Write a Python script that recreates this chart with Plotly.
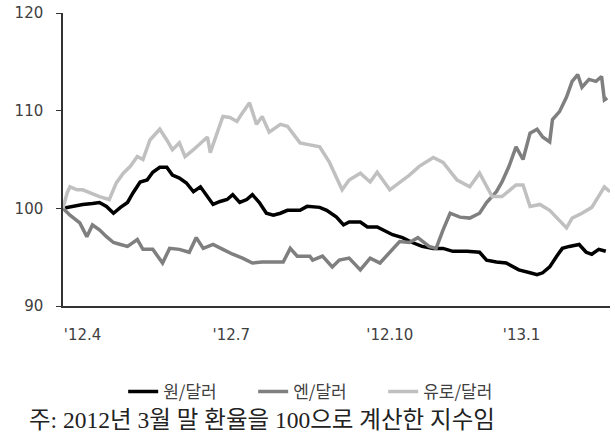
import plotly.graph_objects as go

# time index of observations (base = end of March 2012)
won_t = [0,7,14,21,26,31,36,41,46,50,55,60,64,69,74,78,83,88,93,98,103,107,112,117,121,126,131,135,140,145,150,155,160,164,169,174,183,188,195,200,204,212,217,224,228,235,242,249,256,264,271,278,288,297,302,309,316,321,325,333,338,342,347,352,356,361,368,373,377,382,387]
won_v = [100.0,100.2,100.4,100.5,100.6,100.2,99.5,100.1,100.6,101.6,102.7,102.9,103.7,104.2,104.2,103.4,103.1,102.6,101.7,102.2,101.2,100.4,100.7,100.9,101.4,100.6,100.9,101.4,100.6,99.5,99.3,99.5,99.8,99.8,99.8,100.2,100.1,99.8,99.1,98.3,98.6,98.6,98.1,98.1,97.8,97.3,97.0,96.5,96.1,95.9,95.9,95.6,95.6,95.5,94.7,94.5,94.4,94.0,93.7,93.4,93.2,93.4,94.0,95.1,95.9,96.1,96.3,95.5,95.3,95.8,95.6]

yen_t = [0,5,12,17,21,26,31,36,41,46,53,57,64,71,76,83,90,95,100,107,114,121,128,135,142,150,157,162,167,176,178,185,192,197,204,212,219,226,233,240,247,253,261,266,271,276,283,290,297,302,309,313,318,323,328,333,338,342,347,349,354,359,363,367,370,375,380,384,386,388]
yen_v = [100.0,99.3,98.5,97.1,98.3,97.8,97.1,96.5,96.3,96.1,96.8,95.8,95.8,94.4,95.9,95.8,95.5,97.0,95.9,96.3,95.8,95.3,94.9,94.4,94.5,94.5,94.5,95.9,95.1,95.1,94.7,95.1,94.0,94.7,94.9,93.7,94.9,94.4,95.5,96.6,96.5,97.0,96.1,95.9,97.8,99.5,99.1,99.0,99.5,100.6,101.7,102.7,104.3,106.3,105.0,107.7,108.1,107.3,106.8,109.1,109.9,111.4,113.0,113.7,112.4,113.2,113.0,113.5,111.1,111.3]

eur_t = [0,3,5,10,14,19,26,33,38,43,48,53,57,62,69,74,78,83,87,93,98,103,105,110,114,119,124,128,133,138,142,147,155,160,164,169,176,183,190,195,199,204,212,219,224,233,240,247,254,264,271,281,290,297,306,313,323,328,333,340,347,354,359,363,370,377,382,386,390]
eur_v = [100.0,101.6,102.2,101.9,101.9,101.6,101.2,100.9,102.6,103.6,104.3,105.3,105.0,107.0,108.1,107.0,106.0,106.7,105.3,106.0,106.7,107.3,105.7,107.7,109.4,109.3,108.9,109.8,110.8,108.6,109.4,107.8,108.6,108.4,107.7,106.7,106.5,106.3,104.7,103.2,101.9,102.9,103.6,102.7,103.7,101.9,102.6,103.4,104.3,105.2,104.7,102.9,102.2,103.6,101.2,101.2,102.4,102.4,100.2,100.4,99.8,98.8,98.0,99.0,99.5,100.1,101.2,102.2,101.7]

tick_pos = [14, 120, 233, 327]
tick_text = ["'12.4", "'12.7", "'12.10", "'13.1"]
y_ticks = [90, 100, 110, 120]

series_names = ["원/달러", "엔/달러", "유로/달러"]
note = "주: 2012년 3월 말 환율을 100으로 계산한 지수임"

fig = go.Figure()
fig.add_trace(go.Scatter(x=won_t, y=won_v, mode="lines", name=series_names[0],
                         line=dict(color="#000000", width=3.5)))
fig.add_trace(go.Scatter(x=yen_t, y=yen_v, mode="lines", name=series_names[1],
                         line=dict(color="#7f7f7f", width=3.5)))
fig.add_trace(go.Scatter(x=eur_t, y=eur_v, mode="lines", name=series_names[2],
                         line=dict(color="#c0c0c0", width=3.5)))

fig.update_layout(
    width=615, height=441,
    margin=dict(l=63, r=5, t=13, b=135),
    paper_bgcolor="white", plot_bgcolor="white",
    font=dict(family="DejaVu Sans", size=15, color="#404040"),
    showlegend=True,
    legend=dict(orientation="h", x=0.11, xanchor="left", y=-0.2935, yanchor="middle",
                font=dict(family="Noto Sans CJK KR", size=17, color="#404040"),
                entrywidth=85, entrywidthmode="pixels", bgcolor="rgba(0,0,0,0)"),
    annotations=[dict(text=note, xref="paper", yref="paper", x=-0.066, y=-0.389,
                      xanchor="left", yanchor="middle", showarrow=False,
                      font=dict(family="Liberation Serif, Noto Sans CJK KR", size=23.5, color="#222222"))],
)
fig.update_xaxes(range=[0, 390], tickvals=tick_pos, ticktext=tick_text, showgrid=False,
                 zeroline=False, showline=True, linecolor="#333333", linewidth=1.5,
                 ticks="", ticklabelstandoff=14, automargin=False)
fig.update_yaxes(range=[90, 120], tickvals=y_ticks, showgrid=False, zeroline=False,
                 showline=True, linecolor="#333333", linewidth=1.5,
                 ticks="outside", ticklen=5, tickcolor="#333333", ticklabelstandoff=10,
                 automargin=False)

fig.write_html("out.html", config={"displayModeBar": False},
               post_script="document.body.style.margin='0';")
